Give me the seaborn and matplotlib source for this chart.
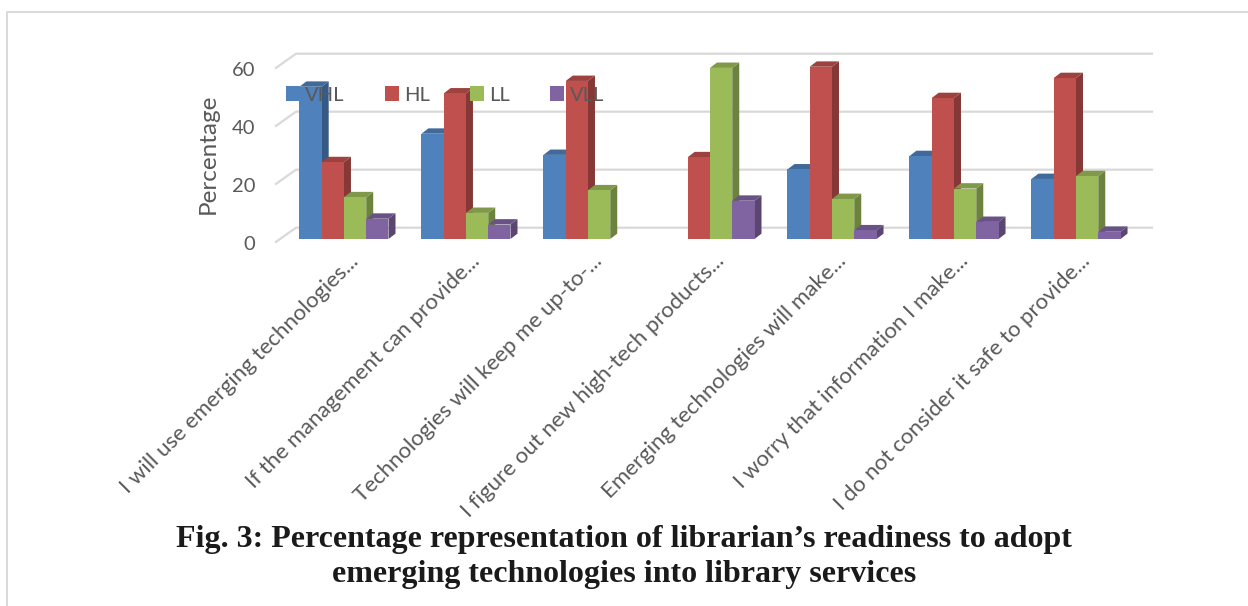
import matplotlib
matplotlib.use('Agg')
import matplotlib.pyplot as plt
import matplotlib.transforms as mtrans
from matplotlib.lines import Line2D
from matplotlib.patches import Polygon
from matplotlib.colors import to_rgb
import numpy as np
import pandas as pd
import seaborn as sns

questions = ['I will use emerging technologies...',
             'If the management can provide...',
             'Technologies will keep me up-to-...',
             'I figure out new high-tech products...',
             'Emerging technologies will make...',
             'I worry that information I make...',
             'I do not consider it safe to provide...']
vhl = [52.5, 36.3, 29.0, np.nan, 24.0, 28.6, 20.7]
hl = [26.5, 50.2, 54.5, 28.2, 59.4, 48.6, 55.5]
ll = [14.4, 9.0, 16.8, 59.0, 13.8, 17.4, 21.7]
vll = [7.0, 5.0, np.nan, 13.2, 3.0, 5.9, 2.5]
levels = ['VHL', 'HL', 'LL', 'VLL']
colors = ['#4F81BD', '#C0504D', '#9BBB59', '#8064A2']
caption = 'Fig. 3: Percentage representation of librarian\u2019s readiness to adopt\nemerging technologies into library services'

W, H = 1248, 606
plt.rcParams['font.family'] = ['Lato', 'DejaVu Sans']
grey = '#595959'

df = pd.DataFrame({'question': questions, 'VHL': vhl, 'HL': hl, 'LL': ll, 'VLL': vll})
df = df.melt(id_vars='question', var_name='level', value_name='pct')

fig = plt.figure(figsize=(W / 100, H / 100), dpi=100)
# axes placed in pixels: x 276-1132, value 0 at y=239, 2.9 px per percent
ax = fig.add_axes([276 / W, 1 - 239 / H, 856 / W, 174 / H])
sns.barplot(data=df, x='question', y='pct', hue='level', order=questions, hue_order=levels,
            palette=colors, width=0.73, gap=0, saturation=1, errorbar=None, ax=ax)
ax.set_xlim(-0.557, 6.459)
ax.set_ylim(0, 60)
sns.despine(ax=ax, left=True, bottom=True)

# back wall of the fake 3D box
wall_dx, wall_dy, floor = 20 / 122, 4.9, -1.0
for v in [0, 20, 40, 60]:
    ax.plot([-0.557, -0.557 + wall_dx, 6.459 + wall_dx], [v + floor, v + floor + wall_dy, v + floor + wall_dy],
            color='#d9d9d9', lw=1.6, clip_on=False, zorder=1)

# side and top faces for every bar
dx, dy = 7 / 122, 1.85
for i, cont in enumerate(ax.containers):
    rgb = np.array(to_rgb(colors[i]))
    for bar in cont:
        h = bar.get_height()
        if np.isnan(h) or h == 0:
            bar.set_visible(False)
            continue
        x0, x1 = bar.get_x(), bar.get_x() + bar.get_width()
        bar.set_zorder(3 + i)
        bar.set_linewidth(0)
        bar.set_clip_on(False)
        ax.add_patch(Polygon([(x1, 0), (x1 + dx, dy), (x1 + dx, h + dy), (x1, h)],
                             color=rgb * 0.7, lw=0, zorder=2.5 + i, clip_on=False))
        ax.add_patch(Polygon([(x0, h), (x0 + dx, h + dy), (x1 + dx, h + dy), (x1, h)],
                             color=rgb * 0.82, lw=0, zorder=2.5 + i, clip_on=False))

ax.set_xlabel('')
ax.set_ylabel('Percentage', fontsize=17.5, color=grey)
ax.yaxis.set_label_coords((219 - 276) / 856, 0.49)
ax.set_yticks([0, 20, 40, 60])
ax.tick_params(axis='y', length=0, pad=15, labelsize=14.5, labelcolor=grey)
ax.tick_params(axis='x', length=0, pad=0)
for lab in ax.get_yticklabels():
    lab.set_transform(lab.get_transform() + mtrans.ScaledTranslation(0, -4 / 100, fig.dpi_scale_trans))
ax.set_xticks(range(len(questions)))
ax.set_xticklabels(questions, rotation=45, ha='right', rotation_mode='anchor', fontsize=16, color=grey)
shift = mtrans.ScaledTranslation(4 / 100, -12 / 100, fig.dpi_scale_trans)
for lab in ax.get_xticklabels():
    lab.set_transform(lab.get_transform() + shift)

handles = [plt.Rectangle((0, 0), 1, 1, color=c, lw=0) for c in colors]
leg = ax.legend(handles, levels, ncol=4, frameon=False, fontsize=14.5, labelcolor=grey,
                handlelength=0.7, handleheight=0.7, handletextpad=0.25, columnspacing=2.0,
                borderpad=0, borderaxespad=0, loc='center left',
                bbox_to_anchor=(286 / W, 1 - 95 / H), bbox_transform=fig.transFigure)
leg.set_zorder(20)

fig.text(624 / W, 1 - 557 / H, caption, ha='center', va='center', family=['Liberation Serif'],
         fontweight='bold', fontsize=23, color='#1a1a1a', linespacing=1.25)

# thin page frame
fig.add_artist(Line2D([6.5 / W, 6.5 / W, 1], [0, 1 - 11.5 / H, 1 - 11.5 / H], color='#d9d9d9', lw=1.4))

fig.savefig('out.png', dpi=100)
